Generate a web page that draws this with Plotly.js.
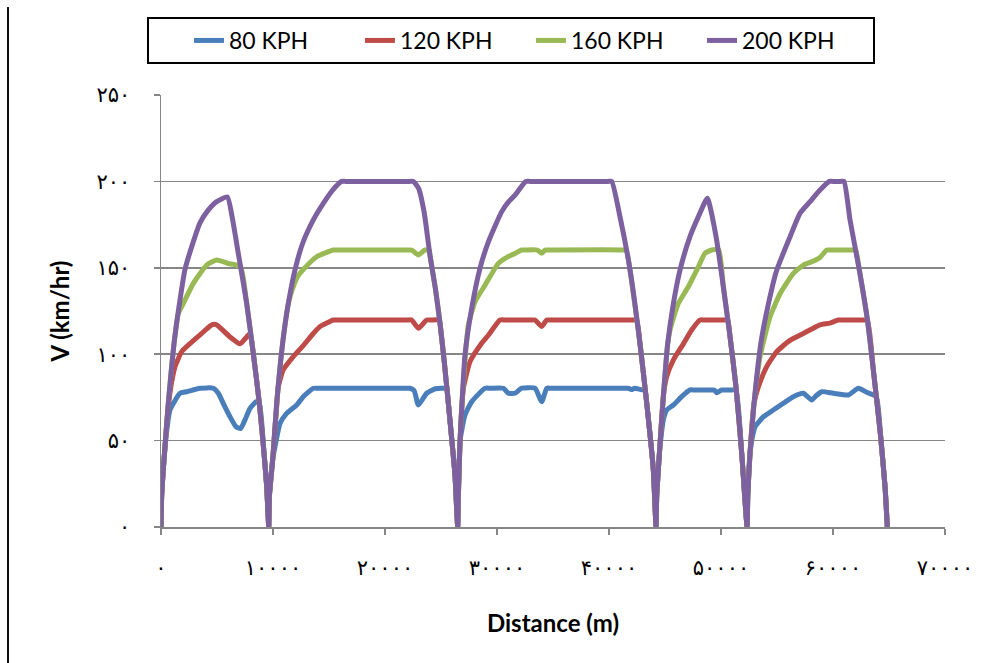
<!DOCTYPE html>
<html>
<head>
<meta charset="utf-8">
<script src="https://cdn.plot.ly/plotly-3.0.1.min.js"></script>
<style>
  html, body { margin: 0; padding: 0; background: #fff; }
  #wrap { position: relative; width: 998px; height: 663px; }
  #chart { width: 998px; height: 663px; }
  #edge { position: absolute; left: 7px; top: 7px; width: 2px; height: 656px; background: #111; }
  .xtick text, .ytick text { letter-spacing: 2.5px; }
</style>
</head>
<body>
<div id="wrap"><div id="chart"></div><div id="edge"></div></div>
<script>
// ---- data (distance in m, speed in km/h) ----
const seriesNames = ["80 KPH", "120 KPH", "160 KPH", "200 KPH"];
const seriesColors = ["#4A7EBB", "#BE4B48", "#98B954", "#7D60A0"];

const dist80 = [0,60,270,450,804,1696,2291,3482,4672,5119,5600,6161,6700,7113,7500,7947,8500,8780,9200,9440,9620,
  9680,9970,10180,10630,11220,12120,12700,13600,14000,21900,22230,22600,22980,23720,24500,25300,25530,25650,26000,26250,26490,
  26550,26700,27140,27740,28930,29400,30570,31010,31610,32200,33390,33990,34440,34800,41400,41720,42000,42300,43060,43220,43370,43960,44200,
  44260,44500,44700,44850,45150,45740,46490,47230,47600,49100,49400,49620,50060,50400,51000,51340,51850,52330,
  52390,52590,52800,53040,53400,53780,54670,55570,56460,57350,58100,58500,58990,60030,61370,62260,63000,63860,64260,64650,64850];
const speed80 = [0,18,39,52,67.7,77.4,78.3,80.3,80.3,77.4,71,63.8,58,57,62,68.7,72.5,71.6,42.6,23.3,0,
  18,38.8,46.5,60,65.8,70.6,75.4,80.3,80.3,80.3,80.3,79,70.6,77.4,80,80.3,80,72,48,30,0,
  18,49.6,64.8,72.5,80.3,80.3,80.3,77.4,77.4,80.3,80.3,72.5,80.3,80.3,80.3,80.3,79.5,80.3,79.3,80,71.6,33,0,
  18,42.6,55,62,67.7,70.6,75.4,79.3,79.3,79.3,79.3,77.7,79.3,79.3,79.3,79.3,42.6,0,
  18,42.6,52,58,61,63.8,67.7,71.6,75.4,77.4,73.5,76,78.3,77.4,76.4,80.3,78,75.4,52,23,0];

const dist120 = [0,60,270,655,900,1250,1850,2740,3630,4530,4970,6160,7050,7650,7950,8240,8780,9200,9440,9620,
  9680,9970,10330,10470,10920,11810,12700,13600,14200,15390,15800,22000,22380,22980,23720,24100,24850,24910,25300,25650,26000,26250,26490,
  26550,26700,26850,27000,27590,28630,29230,30270,30800,33000,33390,33990,34440,34800,42100,42470,42770,43370,43960,44200,
  44260,44500,44850,45150,45740,46640,47380,48130,48500,50300,50600,50810,51340,51850,52330,
  52390,52590,52950,53330,54080,54980,56160,57350,58840,59730,60470,60800,62700,63070,63600,64260,64650,64850];
const speed120 = [0,18,39,70,82,92.8,101.5,107,112,117,117,110,106,110,112,100.5,71.6,42.6,23.3,0,
  18,38.8,70,81,91,98.6,105,112,116,119.8,119.8,119.8,119.8,115,119.8,119.8,119.8,118,95,72,48,30,0,
  18,49.6,68.7,80.3,95.7,106.3,111,119.8,119.8,119.8,119.8,116,119.8,119.8,119.8,119.8,106,71.6,33,0,
  18,42.6,75.4,87,96.6,106,114,119.8,119.8,119.8,119.8,110,81,42.6,0,
  18,42.6,71.6,81,92.8,101.5,108,112,117,118,119.8,119.8,119.8,119.8,91,52,23,0];

const dist160 = [0,60,270,655,1160,1548,1994,2887,4080,4970,6000,7100,7650,8240,8780,9200,9440,9620,
  9680,9970,10330,10860,11370,11700,12200,12700,13900,15390,15800,22000,22380,22980,23570,23960,24020,24500,24910,25300,25650,26000,26250,26490,
  26550,26700,26850,27140,27440,28040,28930,30120,30720,31500,32200,32500,33600,33990,34290,34700,41200,41550,41880,42770,43370,43960,44200,
  44260,44500,44850,45240,45450,45800,46190,47080,47980,48570,49170,49800,50210,50810,51340,51850,52330,
  52390,52590,52950,53490,54380,55270,56460,57350,58100,58840,59440,59800,61700,62030,62350,63070,63600,64260,64650,64850];
const speed160 = [0,18,39,72,106,123.6,129.4,141,151.6,154.5,152.5,150.6,129.4,100.5,71.6,42.6,23.3,0,
  18,38.8,71.6,106.3,129.4,137,145,149,156.4,160.3,160.3,160.3,160.3,157.4,160.3,160,157,138,118,95,72,48,30,0,
  18,49.6,68.7,96,116.9,130.4,140,152.6,155.5,158,160.3,160.3,160.3,158.4,160.3,160.3,160.3,160,148.7,106,71.6,33,0,
  18,42.6,75.4,106,114,122,129.4,139,150.6,158.4,160.3,160.3,139,110,81,42.6,0,
  18,42.6,71.6,98.6,121.7,135,146.8,151.6,153.5,156,160.3,160.3,160.3,160,148.7,120,91,52,23,0];

const dist200 = [0,60,270,655,1160,1640,2140,2830,3480,4230,4970,5920,6400,6900,7650,8240,8780,9200,9440,9620,
  9680,9970,10330,10860,11370,11960,12650,13600,14490,15330,16130,16500,22200,22530,23000,23500,24020,24500,24910,25300,25650,26000,26250,26490,
  26550,26700,26850,27140,27740,28480,29230,30420,31010,31610,32560,33000,39900,40240,40920,41880,42770,43370,43960,44200,
  44260,44500,44850,45240,45740,46340,47230,47980,48780,49560,50210,50810,51340,51850,52330,
  52390,52590,52950,53550,54230,54980,56170,57050,57950,58840,59670,60000,60650,60980,61520,62350,63070,63600,64260,64650,64850];
const speed200 = [0,18,39,72,106,129,149,164,176,183.5,188.3,191,177.7,158.4,129.4,100.5,71.6,42.6,23.3,0,
  18,38.8,71.6,106.3,129.4,148.7,164.2,177.7,187.3,195,200,200,200,200,196,182,157,138,118,95,72,48,30,0,
  18,49.6,68.7,99.5,126.5,149.7,165,182.5,188,192,200,200,200,200,181.5,148.7,106,71.6,33,0,
  18,42.6,75.4,106,129,148.7,168,179.6,190.2,168,139,110,81,42.6,0,
  18,42.6,71.6,106,129,148.7,168,181.5,188.3,195,200,200,200,200,177.7,148.7,120,91,52,23,0];

const xTickVals = [0,10000,20000,30000,40000,50000,60000,70000];
const xTickText = ["۰","۱۰۰۰۰","۲۰۰۰۰","۳۰۰۰۰","۴۰۰۰۰","۵۰۰۰۰","۶۰۰۰۰","۷۰۰۰۰"];
const yTickVals = [0,50,100,150,200,250];
const yTickText = ["۰","۵۰","۱۰۰","۱۵۰","۲۰۰","۲۵۰"];

const xs = [dist80, dist120, dist160, dist200];
const ys = [speed80, speed120, speed160, speed200];

const traces = seriesNames.map((n, i) => ({
  type: "scatter", mode: "lines", name: n,
  x: xs[i], y: ys[i],
  line: { color: seriesColors[i], width: 5, shape: "spline", smoothing: 0.5 }
}));

const layout = {
  width: 998, height: 663,
  margin: { l: 161, r: 53, t: 95, b: 136 },
  paper_bgcolor: "#fff", plot_bgcolor: "#fff",
  showlegend: true,
  legend: {
    orientation: "h", x: -0.0179, xanchor: "left", y: 1.1806, yanchor: "top",
    bordercolor: "#000", borderwidth: 2, bgcolor: "#fff",
    font: { family: "Lato, sans-serif", size: 23, color: "#000" },
    title: { text: "\u2003\u2003", side: "left", font: { family: "Lato, sans-serif", size: 20 } },
    entrywidth: 126, entrywidthmode: "pixels"
  },
  xaxis: {
    range: [0, 70000], tickvals: xTickVals, ticktext: xTickText,
    showgrid: false, zeroline: false,
    showline: true, linecolor: "#868686", linewidth: 1.5,
    ticks: "outside", ticklen: 6, tickcolor: "#868686", tickwidth: 1.5,
    ticklabelstandoff: 15,
    tickfont: { family: "DejaVu Sans, sans-serif", size: 21, color: "#000" },
    title: { text: "Distance (m)", standoff: 36,
      font: { family: "Lato, sans-serif", size: 24, color: "#000", weight: 700 } }
  },
  yaxis: {
    range: [0, 250], tickvals: yTickVals, ticktext: yTickText,
    showgrid: true, gridcolor: "#868686", gridwidth: 1.5, zeroline: false,
    showline: true, linecolor: "#868686", linewidth: 1.5,
    ticks: "outside", ticklen: 6, tickcolor: "#868686", tickwidth: 1.5,
    ticklabelstandoff: 19,
    tickfont: { family: "DejaVu Sans, sans-serif", size: 21, color: "#000" },
    title: { text: "V (km/hr)", standoff: 20,
      font: { family: "Lato, sans-serif", size: 24, color: "#000", weight: 700 } }
  }
};

Plotly.newPlot("chart", traces, layout, { displayModeBar: false, staticPlot: true });
</script>
</body>
</html>
